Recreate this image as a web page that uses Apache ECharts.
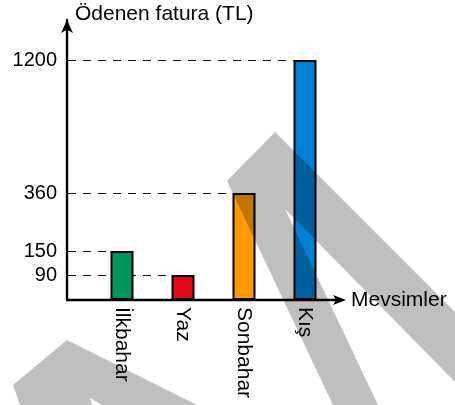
<!DOCTYPE html>
<html>
<head>
<meta charset="utf-8">
<script src="https://cdn.jsdelivr.net/npm/echarts@6/dist/echarts.min.js"></script>
<style>
html,body{margin:0;padding:0;background:#fff;}
#c{width:455px;height:405px;}
</style>
</head>
<body>
<div id="c"></div>
<script>
// ---- data ----
var categories = ['İlkbahar', 'Yaz', 'Sonbahar', 'Kış'];
var values = [150, 90, 360, 1200];
var tickValues = [90, 150, 360, 1200];
var barColors = ['#00955a', '#e20a16', '#ff9b00', '#0080d4'];
var yAxisTitle = 'Ödenen fatura (TL)';
var xAxisTitle = 'Mevsimler';

// ---- non-linear (schematic) value scale of the reference ----
var scaleIn = [0, 90, 150, 360, 1200];
var scaleOut = [0, 25, 49, 107, 240];
function fwd(v) {
  for (var i = 1; i < scaleIn.length; i++) {
    if (v <= scaleIn[i]) {
      var t = (v - scaleIn[i - 1]) / (scaleIn[i] - scaleIn[i - 1]);
      return scaleOut[i - 1] + t * (scaleOut[i] - scaleOut[i - 1]);
    }
  }
  return scaleOut[scaleOut.length - 1];
}
function inv(u) {
  for (var i = 1; i < scaleOut.length; i++) {
    if (u <= scaleOut[i] + 1e-6) {
      var t = (u - scaleOut[i - 1]) / (scaleOut[i] - scaleOut[i - 1]);
      return scaleIn[i - 1] + t * (scaleIn[i] - scaleIn[i - 1]);
    }
  }
  return scaleIn[scaleIn.length - 1];
}

var FONT = '"Liberation Sans", Arial, sans-serif';
var chart = echarts.init(document.getElementById('c'), null, {renderer: 'canvas'});

var barData = values.map(function (v, i) {
  return {value: fwd(v), itemStyle: {color: barColors[i]}};
});
var lineData = values.map(function (v, i) {
  return [
    {xAxis: i, yAxis: fwd(v), x: 68},
    {xAxis: i, yAxis: fwd(v)}
  ];
});

var option = {
  animation: false,
  grid: {left: 91.5, width: 244, top: 20, bottom: 105, containLabel: false},
  xAxis: {
    type: 'category',
    data: categories,
    axisLine: {show: false},
    axisTick: {show: false},
    axisLabel: {
      rotate: -90, margin: 7, fontSize: 21, color: '#000', fontFamily: FONT,
      interval: 0
    },
    name: xAxisTitle,
    nameLocation: 'end',
    nameGap: 15.5,
    nameTextStyle: {fontSize: 21, color: '#000', fontFamily: FONT, align: 'left', verticalAlign: 'middle'}
  },
  yAxis: {
    type: 'value',
    min: 0, max: 280,
    offset: 24.5,
    axisLine: {show: true, symbol: ['none', 'arrow'], symbolSize: [9, 13], lineStyle: {color: '#000', width: 2.4}},
    axisTick: {show: false},
    splitLine: {show: false},
    axisLabel: {
      customValues: tickValues.map(fwd),
      margin: 10, fontSize: 20, color: '#000', fontFamily: FONT,
      formatter: function (u) { return String(Math.round(inv(u))); }
    },
    name: yAxisTitle,
    nameLocation: 'end',
    nameGap: 6,
    nameTextStyle: {fontSize: 21, color: '#000', fontFamily: FONT, align: 'left', verticalAlign: 'middle', padding: [0, 0, 0, 8]}
  },
  series: [{
    type: 'bar',
    data: barData,
    barWidth: 23,
    z: 2,
    itemStyle: {borderColor: '#000', borderWidth: 2},
    markLine: {
      silent: true,
      z: 1,
      symbol: ['none', 'none'],
      label: {show: false},
      lineStyle: {color: '#111', width: 1.2, type: [8, 7], opacity: 1},
      emphasis: {disabled: true},
      data: lineData
    }
  }],
  graphic: [
    {
      type: 'line', z: 50,
      shape: {x1: 66, y1: 300, x2: 337, y2: 300},
      style: {stroke: '#000', lineWidth: 2.4}
    },
    {
      type: 'polygon', z: 50,
      shape: {points: [[346, 300], [333, 295], [336, 300], [333, 305]]},
      style: {fill: '#000'}
    },
    {
      type: 'polygon', z: 100, silent: true,
      shape: {points: [[275, 132], [455, 312], [455, 382], [285, 209], [378, 405], [333, 405], [227, 181]]},
      style: {fill: 'rgba(0,0,0,0.25)'}
    },
    {
      type: 'polygon', z: 100, silent: true,
      shape: {points: [[67, 340], [197, 405], [102, 405], [90, 398], [92, 405], [20, 405], [13, 385]]},
      style: {fill: 'rgba(0,0,0,0.25)'}
    }
  ]
};
chart.setOption(option);
</script>
</body>
</html>
